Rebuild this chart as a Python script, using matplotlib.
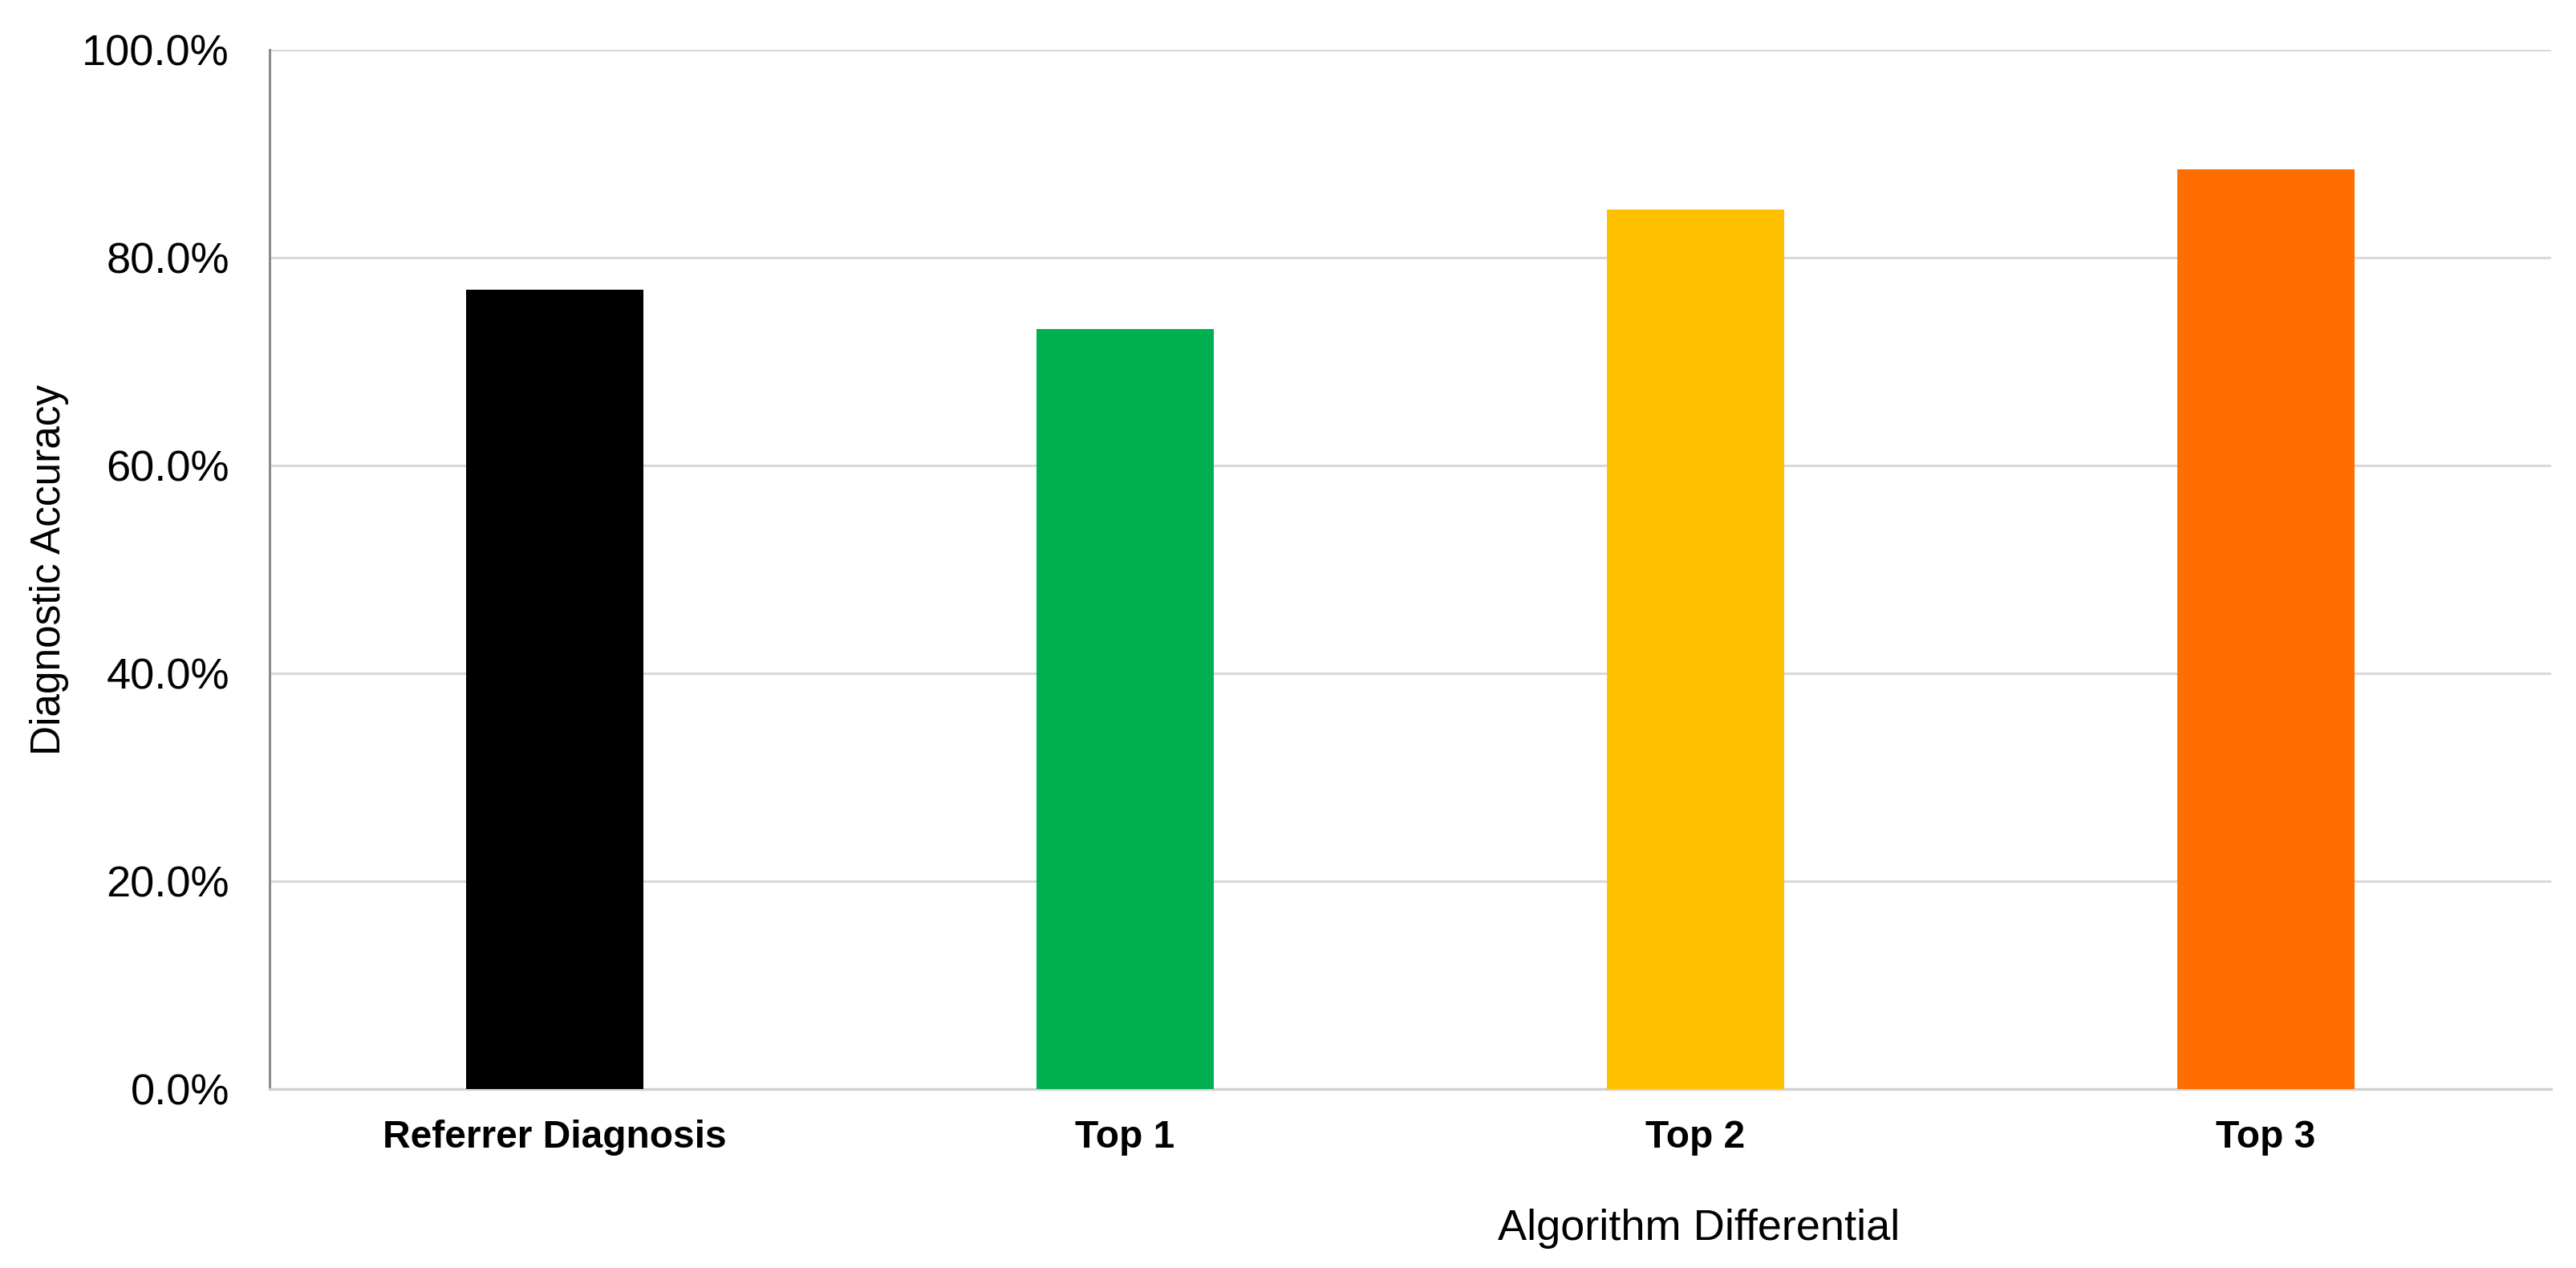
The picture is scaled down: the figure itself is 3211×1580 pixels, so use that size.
import matplotlib
matplotlib.use("Agg")
import matplotlib.pyplot as plt
from matplotlib.ticker import FuncFormatter

categories = ["Referrer Diagnosis", "Top 1", "Top 2", "Top 3"]
accuracy = [76.9, 73.1, 84.6, 88.5]
colors = ["#000000", "#00B050", "#FFC000", "#FF6C00"]
yticks = [0, 20, 40, 60, 80, 100]
ylabel = "Diagnostic Accuracy"
xlabel = "Algorithm Differential"

plt.rcParams['font.family'] = ['Liberation Sans', 'DejaVu Sans']

W, H = 3212, 1580
fig = plt.figure(figsize=(W / 100, H / 100), dpi=100)
ax = fig.add_axes([336 / W, 1 - 1357.3 / H, (3180 - 336) / W, (1357.3 - 61.7) / H])

x = list(range(len(categories)))
ax.bar(x, accuracy, width=0.31, color=colors, zorder=3)

ax.set_xlim(-0.5, len(categories) - 0.5)
ax.set_ylim(0, 100)
ax.set_yticks(yticks)
ax.yaxis.set_major_formatter(FuncFormatter(lambda v, p: f"{v:.1f}%"))
ax.grid(axis='y', color='#d9d9d9', linewidth=2.2, zorder=0)
ax.set_axisbelow(True)

for s in ['top', 'right']:
    ax.spines[s].set_visible(False)
ax.spines['left'].set_color('#8c8c8c')
ax.spines['left'].set_linewidth(2.2)
ax.spines['bottom'].set_color('#d0d0d0')
ax.spines['bottom'].set_linewidth(2.4)

ax.set_xticks(x)
ax.set_xticklabels(categories, fontsize=34.5, fontweight='bold')
ax.tick_params(axis='x', length=0, pad=27, colors='#000000')
ax.tick_params(axis='y', length=0, pad=36, labelsize=39, colors='#000000')

fig.text(62 / W, 1 - 709.5 / H, ylabel, rotation=90, ha='center', va='center', fontsize=37)
fig.text(2118 / W, 1 - 1545 / H, xlabel, ha='center', va='baseline', fontsize=39)

fig.savefig("out.png", dpi=100, facecolor='white')
